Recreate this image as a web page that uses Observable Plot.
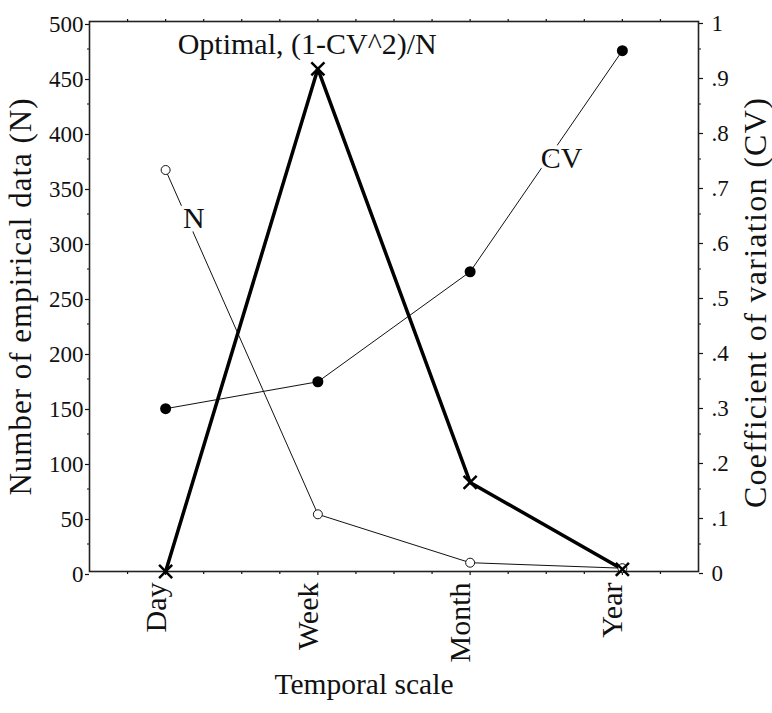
<!DOCTYPE html>
<html>
<head>
<meta charset="utf-8">
<script src="https://cdn.jsdelivr.net/npm/d3@7"></script>
<script src="https://cdn.jsdelivr.net/npm/@observablehq/plot@0.6"></script>
<style>
  html, body { margin: 0; padding: 0; background: #fff; }
  #chart { width: 772px; height: 713px; }
</style>
</head>
<body>
<div id="chart"></div>
<script>
// ---- data ----
const categories = ["Day", "Week", "Month", "Year"];
const nValues = [365, 52, 8, 3];              // Number of empirical data (left axis)
const cvValues = [0.296, 0.345, 0.545, 0.947]; // Coefficient of variation (right axis)
const optimalValues = [0, 457, 81, 2];         // Optimal, (1-CV^2)/N (left axis units)

const leftTicks = [0, 50, 100, 150, 200, 250, 300, 350, 400, 450, 500];
const leftMinorTicks = [25, 75, 125, 175, 225, 275, 325, 375, 425, 475];
const rightTickValues = [0, 0.1, 0.2, 0.3, 0.4, 0.5, 0.6, 0.7, 0.8, 0.9, 1];
const rightTickLabels = ["0", ".1", ".2", ".3", ".4", ".5", ".6", ".7", ".8", ".9", "1"];
const rightMinorTicks = [0.05, 0.15, 0.25, 0.35, 0.45, 0.55, 0.65, 0.75, 0.85, 0.95];
const xQuarterTicks = [-0.25, 0.25, 0.5, 0.75, 1.25, 1.5, 1.75, 2.25, 2.5, 2.75, 3.25];
const xMajorTicks = [0, 1, 2, 3];

const annotationTexts = ["Optimal, (1-CV^2)/N", "N", "CV"];
const annotationX = [0.93, 0.185, 2.6];
const annotationY = [479, 321, 376];

const yTitle = "Number of empirical data (N)";
const y2Title = "Coefficient of variation (CV)";
const xTitle = "Temporal scale";

// ---- build tables ----
const yMax = 500; // right axis 0..1 maps onto left 0..500
const rows = categories.map((c, i) => ({
  i, cat: c, n: nValues[i], cv: cvValues[i] * yMax, opt: optimalValues[i]
}));
const annotations = annotationTexts.map((t, i) => ({t, x: annotationX[i], y: annotationY[i]}));

const serif = "Liberation Serif";
const ink = "#111";

const chart = Plot.plot({
  width: 772,
  height: 713,
  marginLeft: 89,
  marginRight: 74,
  marginTop: 21,
  marginBottom: 142,
  style: {fontFamily: serif, fontSize: "23px", color: ink, background: "#fff", overflow: "visible"},
  x: {domain: [-0.5, 3.5]},
  y: {domain: [0, yMax]},
  marks: [
    // left axis
    Plot.axisY({anchor: "left", ticks: leftTicks, tickSize: 4, tickPadding: 2, tickFormat: d => String(d),
      fontSize: 23, fontFamily: serif, dy: 3, label: null, stroke: ink, strokeWidth: 1.2}),
    Plot.axisY({anchor: "left", ticks: leftMinorTicks, tickSize: 2, tickFormat: () => "", label: null, stroke: ink, strokeWidth: 1.2}),
    // right axis (CV)
    Plot.axisY({anchor: "right", ticks: rightTickValues.map(v => v * yMax), tickSize: 4, tickPadding: 9,
      tickFormat: d => rightTickLabels[Math.round(d / (yMax / 10))], fontSize: 23, fontFamily: serif, dy: 2, label: null, stroke: ink, strokeWidth: 1.2}),
    Plot.axisY({anchor: "right", ticks: rightMinorTicks.map(v => v * yMax), tickSize: 2, tickFormat: () => "", label: null, stroke: ink, strokeWidth: 1.2}),
    // bottom and top ticks
    Plot.axisX({anchor: "bottom", ticks: xMajorTicks, tickSize: 4, tickFormat: () => "", label: null, stroke: ink, strokeWidth: 1.2}),
    Plot.axisX({anchor: "bottom", ticks: xQuarterTicks, tickSize: 3, tickFormat: () => "", label: null, stroke: ink, strokeWidth: 1.2}),
    Plot.axisX({anchor: "top", ticks: xMajorTicks.concat(xQuarterTicks), tickSize: 3, tickFormat: () => "", label: null, stroke: ink, strokeWidth: 1.2}),
    Plot.frame({stroke: "#222", strokeWidth: 1.6}),
    // category labels (rotated)
    Plot.text(rows, {x: "i", text: "cat", frameAnchor: "bottom", rotate: -90, textAnchor: "end", dy: 11, fontSize: 30, fontFamily: serif, fill: ink}),
    // axis titles
    Plot.text([yTitle], {text: d => d, frameAnchor: "left", rotate: -90, textAnchor: "middle", dx: -68, fontSize: 31, fontFamily: serif, fill: ink}),
    Plot.text([y2Title], {text: d => d, frameAnchor: "right", rotate: -90, textAnchor: "middle", dx: 57, dy: 6, fontSize: 32, fontFamily: serif, fill: ink}),
    Plot.text([xTitle], {text: d => d, frameAnchor: "bottom", textAnchor: "middle", dx: -30, dy: 122, fontSize: 29.5, fontFamily: serif, fill: ink}),
    // series lines
    Plot.line(rows, {x: "i", y: "n", stroke: ink, strokeWidth: 1}),
    Plot.line(rows, {x: "i", y: "cv", stroke: ink, strokeWidth: 1}),
    Plot.line(rows, {x: "i", y: "opt", stroke: "#000", strokeWidth: 3.5}),
    // annotations (white halo breaks the lines under the labels)
    Plot.text(annotations, {x: "x", y: "y", text: "t", fontSize: 30, fontFamily: serif, fill: ink, stroke: "white", strokeWidth: 8}),
    // markers
    Plot.dot(rows, {x: "i", y: "n", r: 4.5, fill: "white", stroke: ink, strokeWidth: 1}),
    Plot.dot(rows, {x: "i", y: "cv", r: 5.5, fill: "#000", stroke: "none"}),
    Plot.dot(rows, {x: "i", y: "opt", symbol: "times", r: 6, stroke: "#000", strokeWidth: 2.5})
  ]
});

// widen the two vertical titles slightly to match the reference's wider face
d3.select(chart).selectAll("text")
  .filter(function () { return this.textContent === yTitle; })
  .style("letter-spacing", "1px");
d3.select(chart).selectAll("text")
  .filter(function () { return this.textContent === y2Title; })
  .style("letter-spacing", "1.3px");

document.getElementById("chart").appendChild(chart);
</script>
</body>
</html>
